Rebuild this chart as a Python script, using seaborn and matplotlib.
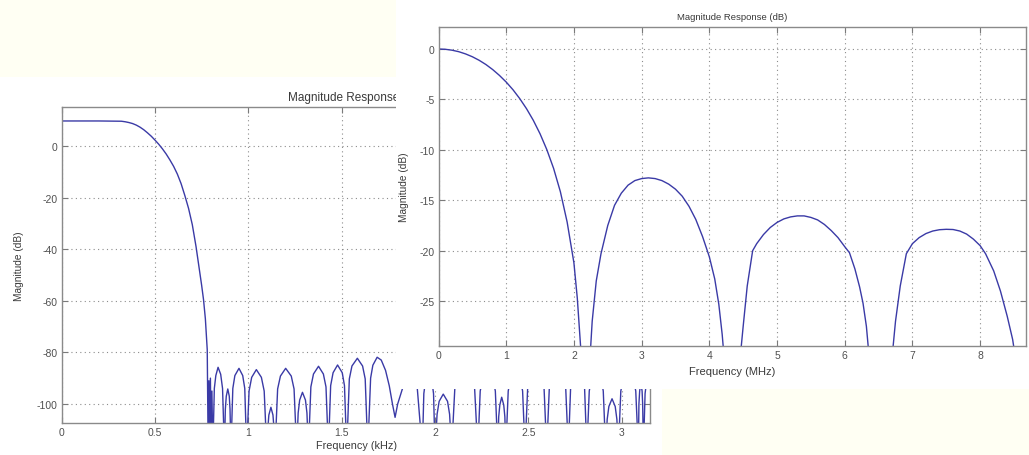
import matplotlib
matplotlib.use("Agg")
import matplotlib.pyplot as plt
from matplotlib.patches import Rectangle
import pandas as pd
import seaborn as sns

# ---------------- data ----------------
NUL = -118  # nulls fall below the visible range

left_freq = [
    0, 0.1, 0.2, 0.30, 0.32, 0.34, 0.36, 0.38, 0.40, 0.42, 0.44, 0.46, 0.48, 0.50, 0.52, 0.54,
    0.56, 0.58, 0.60, 0.62, 0.64, 0.66, 0.68, 0.70, 0.72, 0.74, 0.75, 0.76, 0.77, 0.78,
    0.785, 0.789, 0.793, 0.797, 0.801, 0.805, 0.810,
    0.818, 0.826, 0.838, 0.852, 0.862, 0.872,
    0.877, 0.882, 0.890, 0.898, 0.902, 0.907,
    0.917, 0.928, 0.950, 0.970, 0.981, 0.991,
    1.004, 1.018, 1.043, 1.070, 1.085, 1.099,
    1.105, 1.110, 1.121, 1.132, 1.137, 1.143,
    1.157, 1.172, 1.200, 1.230, 1.245, 1.259,
    1.267, 1.275, 1.290, 1.306, 1.314, 1.322,
    1.335, 1.349, 1.376, 1.402, 1.416, 1.429,
    1.441, 1.454, 1.478, 1.503, 1.515, 1.527,
    1.541, 1.555, 1.584, 1.612, 1.626, 1.640,
    1.655, 1.667, 1.690, 1.712, 1.735, 1.755, 1.772, 1.786, 1.800, 1.825, 1.850, 1.880, 1.905, 1.932,
    1.940, 1.949, 1.966, 1.983, 1.992, 2.000,
    2.011, 2.022, 2.044, 2.067, 2.078, 2.089,
    2.106, 2.124, 2.159, 2.194, 2.212, 2.229,
    2.242, 2.256, 2.283, 2.309, 2.323, 2.336,
    2.341, 2.347, 2.357, 2.368, 2.374, 2.379,
    2.392, 2.405, 2.430, 2.456, 2.469, 2.482,
    2.496, 2.511, 2.540, 2.569, 2.584, 2.598,
    2.612, 2.627, 2.656, 2.685, 2.700, 2.714,
    2.726, 2.739, 2.763, 2.788, 2.801, 2.813,
    2.826, 2.838, 2.863, 2.889, 2.901, 2.914,
    2.922, 2.931, 2.948, 2.965, 2.974, 2.982,
    2.995, 3.009, 3.035, 3.062, 3.075, 3.089,
    3.092, 3.096, 3.102, 3.109, 3.112, 3.116,
    3.125, 3.135, 3.150,
]
left_db = [
    9.7, 9.7, 9.7, 9.65, 9.6, 9.4, 9.1, 8.7, 8.1, 7.3, 6.3, 5.1, 3.8, 2.3, 0.7, -1.1,
    -3.1, -5.4, -7.9, -10.9, -14.6, -19.2, -24.2, -30.5, -39, -49, -54, -59.5, -67, -79,
    NUL, -91, NUL, -90, NUL, -95, NUL,
    -94, -89, -85.8, -88.5, -94, NUL,
    -102, -97, -94.2, -97, -102, NUL,
    -94, -89, -86.2, -89, -94, NUL,
    -95, -89.7, -86.7, -89.7, -95, NUL,
    -109, -104.3, -101.3, -104.3, -109, NUL,
    -94.2, -89.2, -86.2, -89.2, -94.2, NUL,
    -103.5, -98.5, -95.5, -98.5, -103.5, NUL,
    -93.4, -88.4, -85.4, -88.4, -93.4, NUL,
    -92.9, -87.9, -84.9, -87.9, -92.9, NUL,
    -90.3, -85.3, -82.3, -85.3, -90.3, NUL,
    -90, -85, -81.9, -83, -87, -93, -100, -105.2, -100, -94.2, -90, -89, -94, NUL,
    -96, -91, -88, -91, -96, NUL,
    -104, -99, -96.2, -99, -104, NUL,
    -94, -89, -86, -89, -94, NUL,
    -95, -90, -87, -90, -95, NUL,
    -105, -100.4, -97.4, -100.4, -105, NUL,
    -95, -90, -87, -90, -95, NUL,
    -94, -89, -86, -89, -94, NUL,
    -94, -89, -86, -89, -94, NUL,
    -94, -89, -86, -89, -94, NUL,
    -95, -90, -87, -90, -95, NUL,
    -106, -101, -98, -101, -106, NUL,
    -95, -90, -87, -90, -95, NUL,
    -100, -95, -92, -95, -100, NUL,
    -96, -90, -88,
]

NUL_R = -60
right_freq = [
    0, 0.1, 0.2, 0.3, 0.4, 0.5, 0.6, 0.7, 0.8, 0.9, 1.0, 1.1, 1.2, 1.3, 1.4, 1.5, 1.6, 1.7,
    1.8, 1.9, 2.0, 2.05, 2.1, 2.17,
    2.23, 2.27, 2.33, 2.40, 2.5, 2.6, 2.7, 2.8, 2.9, 3.0, 3.1, 3.2, 3.3, 3.4, 3.5, 3.6, 3.7,
    3.8, 3.9, 4.0, 4.08, 4.14, 4.19, 4.23, 4.34,
    4.45, 4.5, 4.56, 4.64, 4.70, 4.80, 4.90, 5.0, 5.1, 5.2, 5.3, 5.4, 5.5, 5.6, 5.7, 5.8, 5.9,
    6.0, 6.07, 6.15, 6.22, 6.27, 6.32, 6.36, 6.52,
    6.70, 6.75, 6.82, 6.91, 7.0, 7.1, 7.2, 7.3, 7.4, 7.5, 7.6, 7.7, 7.8, 7.9, 8.0, 8.08,
    8.2, 8.3, 8.4, 8.48, 8.53, 8.62, 8.67,
]
right_db = [
    0, -0.03, -0.12, -0.27, -0.49, -0.77, -1.12, -1.54, -2.04, -2.62, -3.28, -4.04, -4.92,
    -5.92, -7.07, -8.41, -9.98, -11.84, -14.15, -17.16, -21.2, -24.7, -29.6, NUL_R,
    -31.5, -27.0, -23.0, -20.3, -17.5, -15.5, -14.3, -13.5, -13.05, -12.85, -12.78, -12.85, -13.05,
    -13.4, -13.9, -14.6, -15.6, -16.9, -18.6, -20.6, -22.8, -25.3, -28.3, -31.5, NUL_R,
    -31.0, -27.5, -23.5, -20.0, -19.3, -18.4, -17.7, -17.2, -16.85, -16.65, -16.55, -16.55, -16.7,
    -16.95, -17.4, -18.0, -18.7, -19.6, -20.2, -21.8, -23.6, -25.2, -27.5, -30.5, NUL_R,
    -30.5, -27.0, -23.5, -20.3, -19.3, -18.7, -18.3, -18.05, -17.92, -17.88, -17.9, -18.05,
    -18.35, -18.85, -19.5, -20.3, -22.0, -24.0, -26.5, -28.8, -31.0, NUL_R, -45,
]

left_xticks = [0, 0.5, 1, 1.5, 2, 2.5, 3]
left_xticklabels = ["0", "0.5", "1", "1.5", "2", "2.5", "3"]
left_yticks = [0, -20, -40, -60, -80, -100]
left_yticklabels = ["0", "-20", "-40", "-60", "-80", "-100"]
right_xticks = [0, 1, 2, 3, 4, 5, 6, 7, 8]
right_xticklabels = ["0", "1", "2", "3", "4", "5", "6", "7", "8"]
right_yticks = [0, -5, -10, -15, -20, -25]
right_yticklabels = ["0", "-5", "-10", "-15", "-20", "-25"]

left_title = "Magnitude Response (dB)"
right_title = "Magnitude Response (dB)"
left_xlabel = "Frequency (kHz)"
right_xlabel = "Frequency (MHz)"
ylabel_text = "Magnitude (dB)"

# ---------------- figure ----------------
sns.set_theme(style="white")
plt.rcParams["font.family"] = ["Liberation Sans Narrow", "Liberation Sans", "DejaVu Sans"]

W, H = 1029, 456
fig = plt.figure(figsize=(W / 100, H / 100), dpi=100)
fig.patch.set_facecolor("#fffff3")


def frect(x0, y0, x1, y1):
    return [x0 / W, 1 - y1 / H, (x1 - x0) / W, (y1 - y0) / H]


LINE = "#3a3aa6"
TXT = "#3a3a3a"
TICKTXT = "#505050"


def style(ax, xt, xtl, yt, ytl):
    ax.set_facecolor("white")
    ax.set_xticks(xt)
    ax.set_xticklabels(xtl)
    ax.set_yticks(yt)
    ax.set_yticklabels(ytl)
    ax.grid(True, linestyle=(0, (1, 3)), color="#8c8c8c", linewidth=0.8)
    ax.tick_params(direction="in", top=True, right=True, bottom=True, left=True,
                   length=4, width=0.8, color="#7a7a7a", labelcolor=TICKTXT,
                   labelsize=7.5, pad=3)
    for s in ax.spines.values():
        s.set_color("#8a8a8a")
        s.set_linewidth(1.0)
        s.set_visible(True)


# left screenshot background
r1 = Rectangle(frect(0, 78, 662, 456)[:2], 662 / W, (456 - 78) / H,
               transform=fig.transFigure, facecolor="white", edgecolor="none", zorder=-1)
fig.add_artist(r1)

axL = fig.add_axes(frect(61.6, 108.3, 650.5, 423.5))
axL.set_zorder(0)
dfL = pd.DataFrame({"f": left_freq, "db": left_db})
sns.lineplot(data=dfL, x="f", y="db", ax=axL, color=LINE, linewidth=1.0,
             sort=False, estimator=None)
axL.set_xlim(0, 3.154)
axL.set_ylim(-107.2, 15)
style(axL, left_xticks, left_xticklabels, left_yticks, left_yticklabels)
axL.set_xlabel(left_xlabel, fontsize=7.8, color=TXT)
axL.set_ylabel(ylabel_text, fontsize=7.3, color=TXT)
axL.xaxis.set_label_coords(0.5, -0.055)
axL.yaxis.set_label_coords(-0.064, 0.5)
axL.set_title(left_title, fontsize=8.5, color=TXT, pad=5)

# right screenshot background (covers the left one)
r2 = Rectangle(frect(396, 0, 1029, 390)[:2], (1029 - 396) / W, 390 / H,
               transform=fig.transFigure, facecolor="white", edgecolor="none", zorder=1)
fig.add_artist(r2)

axR = fig.add_axes(frect(438.5, 28.3, 1025.5, 347))
axR.set_zorder(2)
dfR = pd.DataFrame({"f": right_freq, "db": right_db})
sns.lineplot(data=dfR, x="f", y="db", ax=axR, color=LINE, linewidth=1.0,
             sort=False, estimator=None)
axR.set_xlim(0, 8.67)
axR.set_ylim(-29.45, 2.15)
style(axR, right_xticks, right_xticklabels, right_yticks, right_yticklabels)
axR.set_xlabel(right_xlabel, fontsize=8, color=TXT)
axR.set_ylabel(ylabel_text, fontsize=7.3, color=TXT)
axR.xaxis.set_label_coords(0.5, -0.062)
axR.yaxis.set_label_coords(-0.05, 0.5)
axR.set_title(right_title, fontsize=6.8, color=TXT, pad=6)

fig.savefig("out.png", dpi=100, facecolor=fig.get_facecolor())
